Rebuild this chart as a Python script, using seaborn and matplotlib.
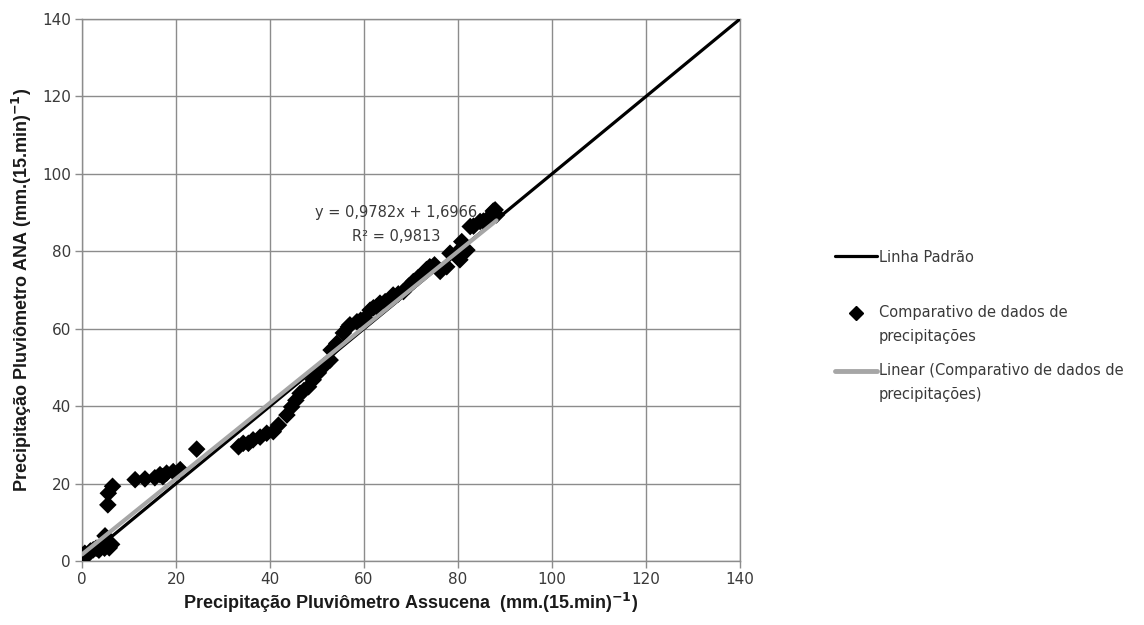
import matplotlib
matplotlib.use("Agg")
import matplotlib.pyplot as plt
from matplotlib.lines import Line2D
import numpy as np
import pandas as pd
import seaborn as sns

# Paired 15-minute rainfall readings (mm per 15 min)
assucena = [0, 0.6, 1.2, 1.8, 2.4, 3.0, 3.6, 4.2, 4.8, 5.3, 5.8, 6.3,
            4.9, 5.5, 5.6, 6.5,
            11.3, 13.4, 15.5, 16.6, 17.2, 18.0, 19.4, 20.9, 24.4,
            33.3, 34.3, 35.4, 36.4, 37.9, 39.3, 40.7, 41.8, 43.6,
            44.6, 45.5, 46.4, 47.2, 48.2, 49.2, 50.3, 51.5,
            52.8, 53.0, 54.2, 55.6, 56.7, 57.0, 58.5, 59.3,
            60.2, 61.3, 62.0, 62.7, 63.4, 64.5, 65.5, 66.2, 67.3, 68.4,
            69.5, 70.5, 71.5, 72.6, 73.3, 74.0, 75.0,
            76.2, 77.6, 78.3, 79.7, 80.4, 80.8, 81.9,
            82.6, 83.3, 84.7, 85.4, 86.8, 87.5, 87.9, 88.2]
ana = [1.5, 2.0, 1.6, 2.6, 2.9, 3.3, 2.8, 3.8, 3.3, 4.0, 3.4, 4.3,
       6.5, 14.5, 17.5, 19.3,
       21.0, 21.2, 21.5, 22.3, 21.8, 22.7, 23.1, 23.6, 28.9,
       29.5, 30.4, 30.4, 31.3, 32.0, 33.0, 33.4, 35.1, 37.7,
       39.8, 41.5, 43.3, 44.0, 45.0, 46.8, 48.6, 50.4,
       51.9, 54.5, 56.2, 58.9, 60.5, 61.0, 61.8, 62.2,
       62.7, 64.8, 65.4, 65.7, 66.6, 67.0, 67.4, 68.7, 69.0, 69.6,
       71.0, 72.2, 73.2, 74.3, 75.3, 76.0, 76.5,
       74.8, 76.0, 79.5, 79.5, 77.8, 82.5, 80.3,
       86.4, 86.5, 87.7, 87.8, 89.0, 90.4, 90.7, 89.4]

# Reference 1:1 line and the fitted trend line
standard_x = [0, 140]
slope, intercept, r2 = 0.9782, 1.6966, 0.9813

ticks = list(range(0, 141, 20))

sns.set_style("white")
plt.rcParams["font.family"] = ["DejaVu Sans"]

TEXT = "#3a3a3a"

fig = plt.figure(figsize=(11.44, 6.25), dpi=100)
ax = fig.add_axes([82 / 1144, 1 - 561 / 625, (740 - 82) / 1144, (561 - 19) / 625])

pts = pd.DataFrame({"x": assucena, "y": ana})
sns.scatterplot(data=pts, x="x", y="y", marker="D", s=80, color="black",
                edgecolor="none", ax=ax, zorder=3, legend=False)

std = pd.DataFrame({"x": standard_x, "y": standard_x})
sns.lineplot(data=std, x="x", y="y", color="black", linewidth=2.3, ax=ax,
             zorder=4, legend=False)

fit_x = np.array([0, max(assucena)])
fit = pd.DataFrame({"x": fit_x, "y": slope * fit_x + intercept})
sns.lineplot(data=fit, x="x", y="y", color="#A6A6A6", linewidth=3.0, ax=ax,
             zorder=5, legend=False)

ax.set_xlim(0, 140)
ax.set_ylim(0, 140)
ax.set_xticks(ticks)
ax.set_yticks(ticks)
ax.grid(True, color="#8C8C8C", linewidth=1.0)
ax.set_axisbelow(True)
for sp in ax.spines.values():
    sp.set_color("#8C8C8C")
    sp.set_linewidth(1.0)
ax.tick_params(axis="both", which="major", direction="out", length=5,
               width=1, color="#8C8C8C", labelsize=11, labelcolor=TEXT,
               pad=3, left=True, bottom=True)

label_font = dict(family="Liberation Sans", weight="bold", size=13, color="#1a1a1a")
ax.set_xlabel(r"Precipitação Pluviômetro Assucena  (mm.(15.min)$^{\mathbf{-1}}$)",
              labelpad=3, **label_font)
ax.set_ylabel(r"Precipitação Pluviômetro ANA (mm.(15.min)$^{\mathbf{-1}}$)",
              labelpad=6, **label_font)

ax.text(66.8, 90.0, f"y = {slope:.4f}x + {intercept:.4f}".replace(".", ","),
        ha="center", va="center", fontsize=10.5, color=TEXT, zorder=6)
ax.text(66.8, 83.8, f"R² = {r2:.4f}".replace(".", ","),
        ha="center", va="center", fontsize=10.5, color=TEXT, zorder=6)

# Legend: the 1:1 line on its own, then the scatter and trend entries
leg_kw = dict(frameon=False, fontsize=10.5, handlelength=2.9, handletextpad=0.1,
              borderaxespad=0, borderpad=0)
leg1 = fig.legend([Line2D([], [], color="black", linewidth=2.3)],
                  ["Linha Padrão"], loc="center left",
                  bbox_to_anchor=(835 / 1144, 1 - 257 / 625), **leg_kw)
leg2 = fig.legend([Line2D([], [], color="black", marker="D", linestyle="none", markersize=7),
                   Line2D([], [], color="#A6A6A6", linewidth=3.5)],
                  ["Comparativo de dados de\nprecipitações",
                   "Linear (Comparativo de dados de\nprecipitações)"],
                  loc="upper left", bbox_to_anchor=(835 / 1144, 1 - 305 / 625),
                  labelspacing=1.3, **leg_kw)
for lg in (leg1, leg2):
    for t in lg.get_texts():
        t.set_color(TEXT)
        t.set_linespacing(1.75)

# Align the two-line entries' symbols with their first text line
for h in leg2.legend_handles:
    h.set_ydata(np.asarray(h.get_ydata(), dtype=float) + 8.6)

fig.savefig("out.png", dpi=100, facecolor="white")
